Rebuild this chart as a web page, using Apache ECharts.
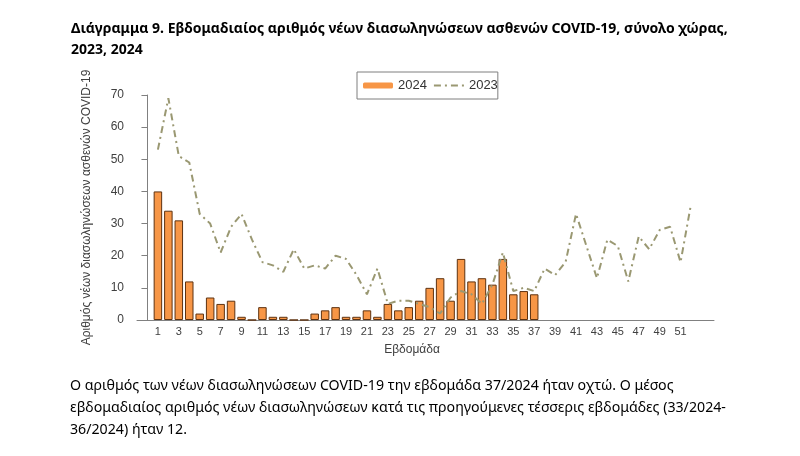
<!DOCTYPE html>
<html>
<head>
<meta charset="utf-8">
<script src="https://cdn.jsdelivr.net/npm/echarts@6/dist/echarts.min.js"></script>
<style>
html,body{margin:0;padding:0;background:#fff;}
#chart{width:800px;height:456px;}
</style>
</head>
<body>
<div id="chart"></div>
<script>
// Weeks
const weeks2024 = [1,2,3,4,5,6,7,8,9,10,11,12,13,14,15,16,17,18,19,20,21,22,23,24,25,26,27,28,29,30,31,32,33,34,35,36,37];
const values2024 = [40,34,31,12,2,7,5,6,1,0,4,1,1,0,0,2,3,4,1,1,3,1,5,3,4,6,10,13,6,19,12,13,11,19,8,9,8];
const weeks2023 = [1,2,3,4,5,6,7,8,9,10,11,12,13,14,15,16,17,18,19,20,21,22,23,24,25,26,27,28,29,30,31,32,33,34,35,36,37,38,39,40,41,42,43,44,45,46,47,48,49,50,51,52];
const values2023 = [53,69,51,49,33,30,21,29,33,25,18,17,15,22,16,17,16,20,19,14,8,16,5,6,6,5,4,2,7,9,8,5,11,21,9,10,9,16,14,18,33,23,13,25,23,12,26,22,28,29,18,36];
const yTicks = [0,10,20,30,40,50,60,70];

const titleText = 'Διάγραμμα 9. Εβδομαδιαίος αριθμός νέων διασωληνώσεων ασθενών COVID-19, σύνολο χώρας,\n2023, 2024';
const noteLines = [
  'Ο αριθμός των νέων διασωληνώσεων COVID-19 την εβδομάδα 37/2024 ήταν οχτώ. Ο μέσος',
  'εβδομαδιαίος αριθμός νέων διασωληνώσεων κατά τις προηγούμενες τέσσερις εβδομάδες (33/2024-',
  '36/2024) ήταν 12.'
];
const yName = 'Αριθμός νέων διασωληνώσεων ασθενών COVID-19';
const xName = 'Εβδομάδα';

const chart = echarts.init(document.getElementById('chart'), null, {renderer:'canvas'});
const font = "'Liberation Sans', Arial, sans-serif";
const textFont = "'Noto Sans', sans-serif";

const option = {
  backgroundColor: '#fff',
  animation: false,
  title: {
    text: titleText,
    left: 66, top: 14,
    textStyle: {fontFamily: textFont, fontWeight: 'bold', fontSize: 14, color: '#000', lineHeight: 21}
  },
  legend: {
    left: 357, top: 72,
    padding: [7, 0, 7, 6],
    itemGap: 6,
    itemWidth: 30, itemHeight: 6,
    borderColor: '#7f7f7f', borderWidth: 1,
    textStyle: {fontFamily: font, fontSize: 13, color: '#333'},
    data: [
      {name: '2024', icon: 'roundRect', itemStyle: {color: '#F79646', borderWidth: 0}},
      {name: '2023', itemStyle: {opacity: 0}}
    ]
  },
  grid: {left: 137, right: 86, top: 95, bottom: 136},
  xAxis: {
    type: 'value',
    min: -1, max: 54.2, interval: 2,
    name: xName, nameLocation: 'middle', nameGap: 24,
    nameTextStyle: {fontFamily: font, fontSize: 12, color: '#404040', padding: [0, 27, 0, 0]},
    axisLine: {show: true, lineStyle: {color: '#808080', width: 1}},
    axisTick: {show: false},
    splitLine: {show: false},
    axisLabel: {
      fontFamily: font, fontSize: 11, color: '#404040', margin: 6,
      formatter: v => (v >= 1 && v <= 51 && v % 2 === 1) ? String(v) : ''
    }
  },
  yAxis: {
    type: 'value',
    min: 0, max: 70, interval: 10,
    name: yName, nameLocation: 'middle', nameGap: 44, nameRotate: 90,
    nameTextStyle: {fontFamily: font, fontSize: 12, color: '#404040'},
    axisLine: {show: true, lineStyle: {color: '#808080', width: 1}},
    axisTick: {show: true, length: 6, lineStyle: {color: '#808080'}},
    splitLine: {show: false},
    axisLabel: {fontFamily: font, fontSize: 12, color: '#404040', margin: 13}
  },
  series: [
    {
      name: '2024', type: 'bar', barWidth: 8.5,
      data: weeks2024.map((w, i) => [w, values2024[i]]),
      itemStyle: {color: '#F79646', borderColor: '#5e3210', borderWidth: 1}
    },
    {
      name: '2023', type: 'line', symbol: 'none', z: 3,
      data: weeks2023.map((w, i) => [w, values2023[i]]),
      lineStyle: {color: '#9a9872', width: 2, type: [7, 4, 2, 4]},
      itemStyle: {color: '#9a9872'}
    }
  ],
  graphic: noteLines.map((t, i) => ({
    type: 'text', left: 70, top: 379 + i * 22,
    style: {text: t, font: '14.2px ' + textFont, fill: '#000'}
  }))
};
chart.setOption(option);
</script>
</body>
</html>
